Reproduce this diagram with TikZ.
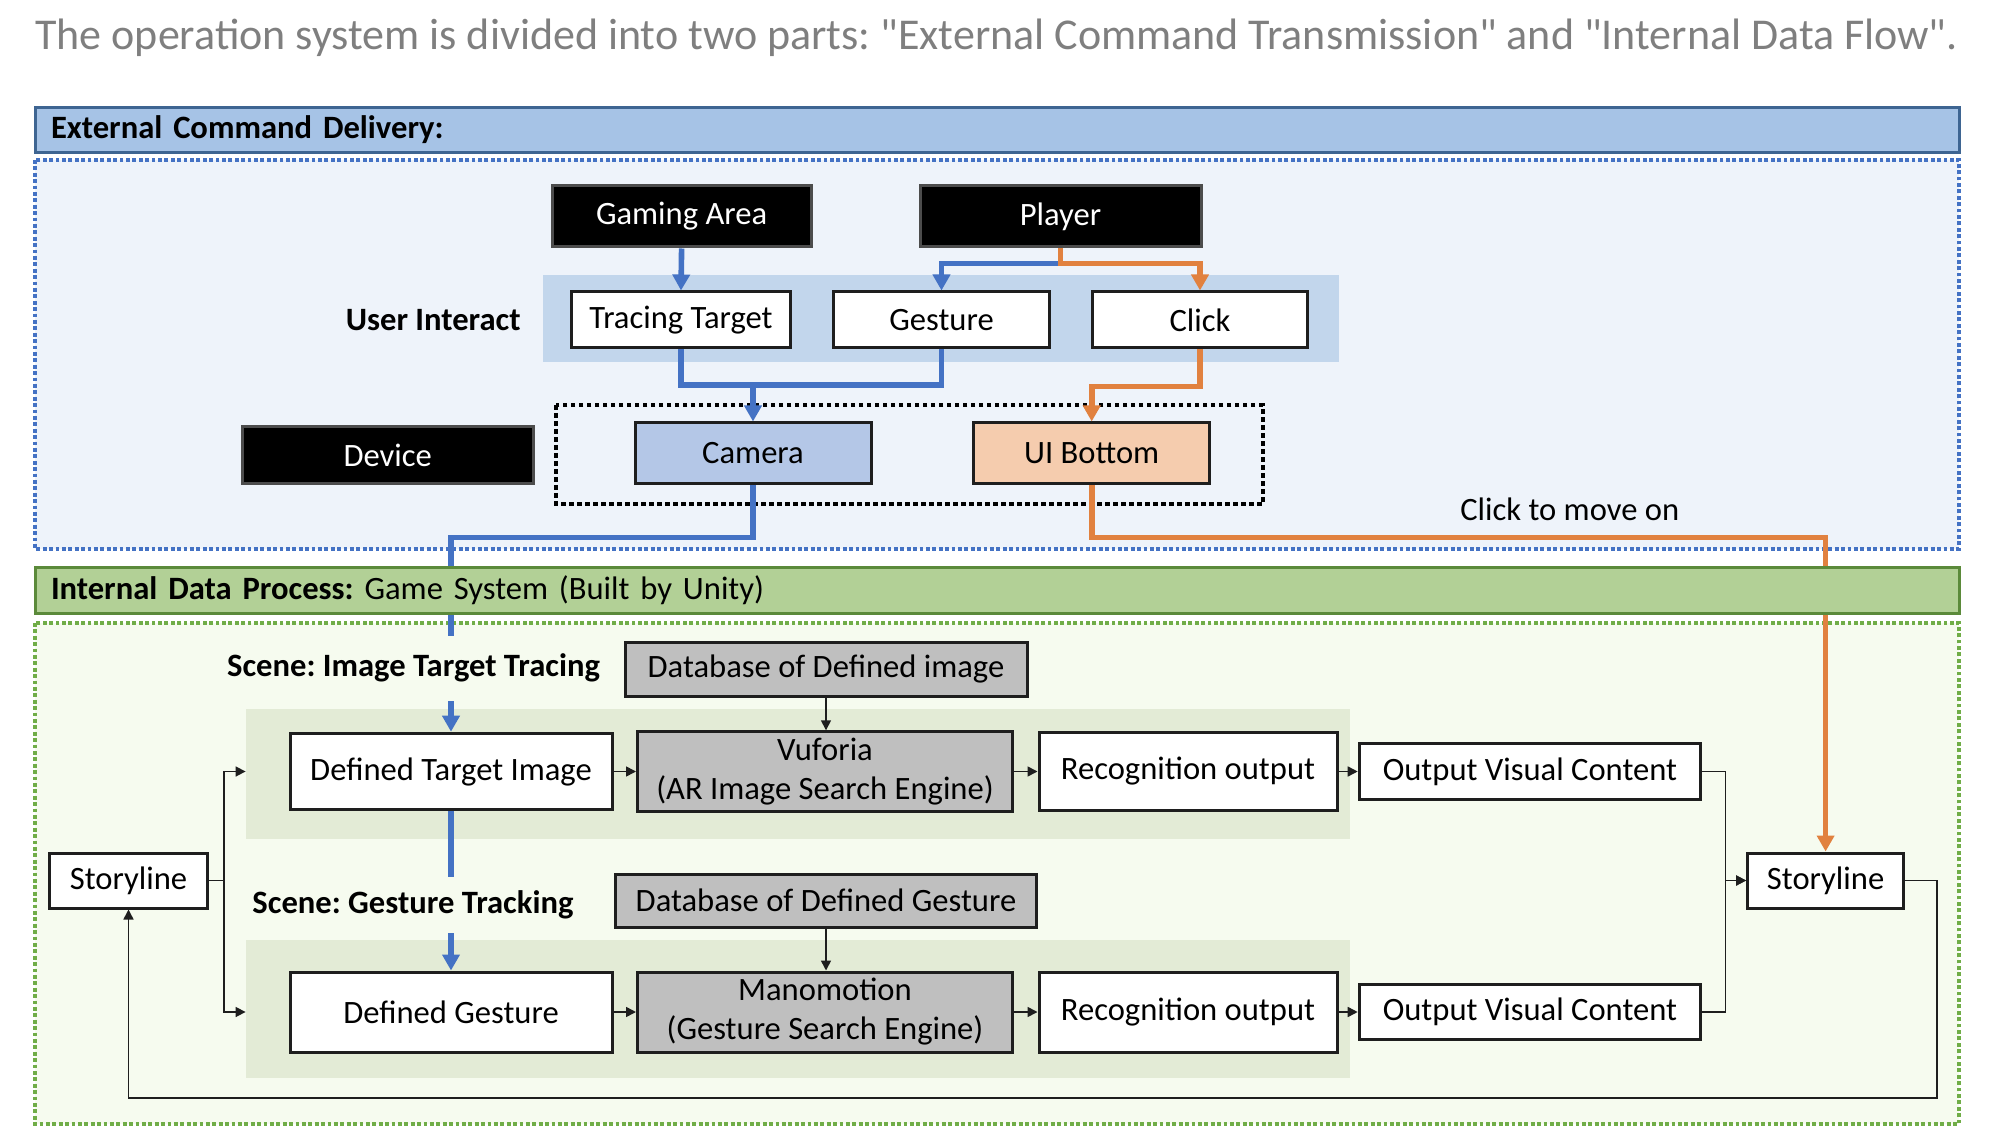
\documentclass[tikz,border=0pt]{standalone}
\usepackage{fontspec}
\setmainfont{Carlito}
\usetikzlibrary{arrows.meta}

\definecolor{titlegray}{HTML}{7F7F7F}
\definecolor{extbarfill}{HTML}{A6C3E6}
\definecolor{extbarline}{HTML}{3E6592}
\definecolor{extbg}{HTML}{EEF3FA}
\definecolor{extdots}{HTML}{4472C4}
\definecolor{uiband}{HTML}{C2D6EC}
\definecolor{camfill}{HTML}{B4C7E7}
\definecolor{uifill}{HTML}{F5CCAE}
\definecolor{blueflow}{HTML}{4472C4}
\definecolor{orangeflow}{HTML}{E1813F}
\definecolor{intbarfill}{HTML}{B2D096}
\definecolor{intbarline}{HTML}{5B8A3A}
\definecolor{intbg}{HTML}{F6FBEF}
\definecolor{intdots}{HTML}{70AD47}
\definecolor{sceneband}{HTML}{E3EBD6}
\definecolor{boxgray}{HTML}{BFBFBF}
\definecolor{boxline}{HTML}{1E1E1E}

\begin{document}
\frenchspacing
\begin{tikzpicture}[x=0.5pt, y=-0.5pt, font=\fontsize{16.3}{19.5}\selectfont]
        \useasboundingbox (0,0) rectangle (1992,1144);
            \tikzset{mybox/.style={rectangle, draw=boxline, line width=1.5pt, fill=white, inner sep=0pt, text centered},
                myblack/.style={mybox, fill=black, draw=black!70, text=white},
                mygray/.style={mybox, fill=boxgray, align=center},
                mybar/.style={rectangle, line width=1.5pt, inner xsep=8pt, inner ysep=0pt, minimum height=22.5pt, text width=946pt, align=left},
                myband/.style={rectangle, inner sep=0pt},
                mylabel/.style={font=\bfseries\fontsize{16.3}{19.5}\selectfont, inner xsep=2pt, inner ysep=0pt},
                thickflow/.style={line width=2.8pt, -{Triangle[length=8pt, width=8.5pt]}},
                thinflow/.style={draw=boxline, line width=0.8pt, -{Triangle[length=5pt, width=5pt]}}}

        \node[anchor=base west, text=titlegray, font=\fontsize{22}{26}\selectfont, inner sep=0pt] (title) at (35,50) {The operation system is divided into two parts: \textquotedbl External Command Transmission\textquotedbl{} and \textquotedbl Internal Data Flow\textquotedbl.};

        % the two parts
        \draw[extdots, fill=extbg, line width=1.8pt, dash pattern=on 1.9pt off 1.3pt] (35,160) rectangle (1959,549);
        \draw[intdots, fill=intbg, line width=1.8pt, dash pattern=on 1.9pt off 1.3pt] (35,623) rectangle (1959,1124);

        \node[myband, fill=uiband, minimum width=398pt, minimum height=43.5pt] (uiband) at (940.6,318.5) {};
        \node[myband, fill=sceneband, minimum width=552pt, minimum height=64.8pt] (band1) at (798,773.8) {};
        \node[myband, fill=sceneband, minimum width=552pt, minimum height=69pt] (band2) at (798,1009) {};
        \draw[black, line width=2.1pt, dash pattern=on 2.4pt off 1.6pt] (556,405) rectangle (1262.7,504);

        \node[myblack, minimum width=129.5pt, minimum height=30.5pt] (ga) at (681.6,216.5) {Gaming Area};
        \node[myblack, minimum width=140.5pt, minimum height=30.5pt] (pl) at (1060.5,216.5) {Player};
        \node[mybox, minimum width=109.7pt, minimum height=28pt] (tt) at (681,320) {Tracing Target};
        \node[mybox, minimum width=108pt, minimum height=28pt] (ge) at (941.5,320) {Gesture};
        \node[mybox, minimum width=107.5pt, minimum height=28pt] (cl) at (1200,320) {Click};
        \node[mylabel, anchor=east] (uilabel) at (525,320) {User Interact};
        \node[myblack, minimum width=145.5pt, minimum height=28.5pt] (dev) at (387.7,455) {Device};
        \node[mybox, fill=camfill, minimum width=118pt, minimum height=30.5pt] (cam) at (753,453.5) {Camera};
        \node[mybox, fill=uifill, minimum width=117.8pt, minimum height=30.5pt] (ui) at (1091.7,453.5) {UI Bottom};
        \node (clk) at (1569.7,509) {Click to move on};

        \node[mygray, minimum width=201pt, minimum height=26.7pt] (dbi) at (826,669.4) {Database of Defined image};
        \node[mybox, minimum width=161pt, minimum height=38.3pt] (dti) at (451,771.5) {Defined Target Image};
        \node[mygray, minimum width=187.5pt, minimum height=39.7pt] (vuf) at (825,771.5) {Vuforia\\(AR Image Search Engine)};
        \node[mybox, minimum width=149pt, minimum height=39pt] (ro1) at (1188,771.5) {Recognition output};
        \node[mybox, minimum width=170.8pt, minimum height=28pt] (ovc1) at (1530,771.5) {Output Visual Content};

        \node[mygray, minimum width=210.5pt, minimum height=26.5pt] (dbg) at (826,900.5) {Database of Defined Gesture};
        \node[mybox, minimum width=161pt, minimum height=40pt] (dg) at (451,1012) {Defined Gesture};
        \node[mygray, minimum width=187.5pt, minimum height=40pt] (mano) at (825,1012) {Manomotion\\(Gesture Search Engine)};
        \node[mybox, minimum width=149pt, minimum height=40pt] (ro2) at (1188,1012) {Recognition output};
        \node[mybox, minimum width=170.8pt, minimum height=27.5pt] (ovc2) at (1530,1012) {Output Visual Content};

        \node[mybox, minimum width=78.8pt, minimum height=27.5pt] (ls) at (128.5,880.5) {Storyline};
        \node[mybox, minimum width=78pt, minimum height=27.5pt] (rs) at (1825.6,880.5) {Storyline};

        % external commands
        \coordinate (camin) at (753,385);
        \draw[thickflow, blueflow] (ga.south) -- (tt.north);
        \draw[thickflow, blueflow] (pl.south) -- ++(0,15) -| (ge.north);
        \draw[thickflow, orangeflow] (pl.south) -- ++(0,15) -| (cl.north);
        \draw[line width=2.8pt, blueflow] (tt.south) |- (camin) -| (ge.south);
        \draw[thickflow, blueflow] (camin) -- (cam.north);
        \draw[thickflow, orangeflow] (cl.south) -- ++(0,37) -| (ui.north);
        \draw[thickflow, blueflow] (cam.south) -- ++(0,52) -| (dti.north);
        \draw[thickflow, blueflow] (dti.south) -- (dg.north);
        \draw[thickflow, orangeflow] (ui.south) -- ++(0,52) -| (rs.north);

        % internal data flow
        \draw[thinflow] (dbi.south) -- (dbi.south |- vuf.north);
        \draw[thinflow] (dbg.south) -- (dbg.south |- mano.north);
        \draw[thinflow] (dti.east) -- (dti.east -| vuf.west);
        \draw[thinflow] (vuf.east) -- (vuf.east -| ro1.west);
        \draw[thinflow] (ro1.east) -- (ro1.east -| ovc1.west);
        \draw[thinflow] (dg.east) -- (dg.east -| mano.west);
        \draw[thinflow] (mano.east) -- (mano.east -| ro2.west);
        \draw[thinflow] (ro2.east) -- (ro2.east -| ovc2.west);
        \draw[thinflow] (ls.east) -- ++(15,0) |- (band1.west |- dti.west);
        \draw[thinflow] (ls.east) -- ++(15,0) |- (band2.west |- dg.west);
        \draw[thinflow] (ovc1.east) -- ++(23,0) |- (rs.west);
        \draw[thinflow] (ovc2.east) -- ++(23,0) |- (rs.west);
        \coordinate (loopr) at (1936.7,1098);
        \draw[thinflow] (rs.east) -| (loopr) -| (ls.south);

        \node[mybar, fill=extbarfill, draw=extbarline] (extbar) at (997,130) {\textbf{External Command Delivery:}};
        \node[mybar, fill=intbarfill, draw=intbarline, minimum height=23pt] (intbar) at (997,590) {\textbf{Internal Data Process:} Game System (Built by Unity)};

        \node[mylabel, fill=intbg, minimum height=32.5pt] (scene1) at (413.6,668) {Scene: Image Target Tracing};
        \node[mylabel, fill=intbg, minimum height=28pt] (scene2) at (413,904.5) {Scene: Gesture Tracking};

        \end{tikzpicture}
\end{document}
